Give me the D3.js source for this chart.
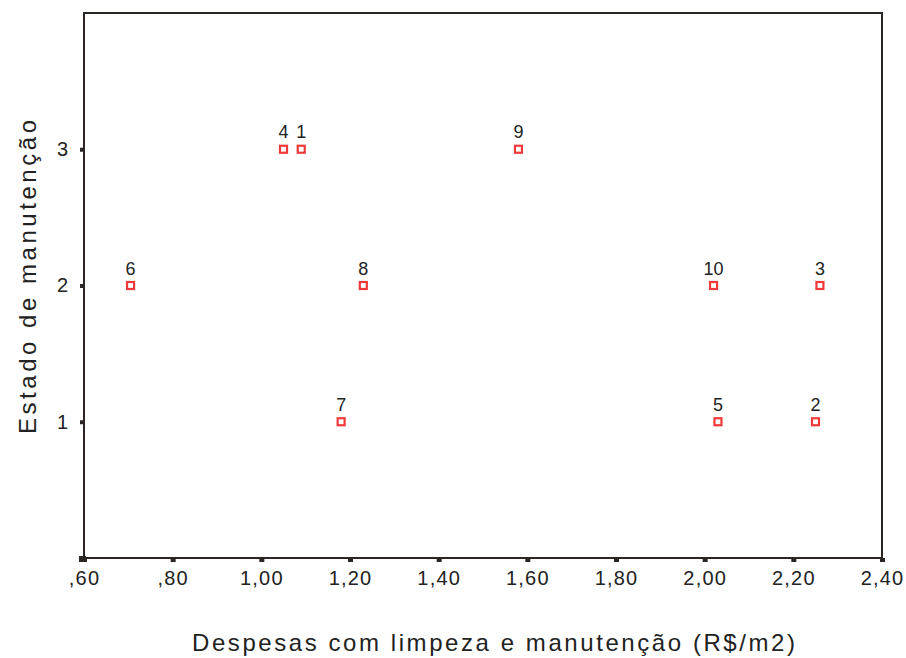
<!DOCTYPE html>
<html>
<head>
<meta charset="utf-8">
<script src="https://cdn.jsdelivr.net/npm/d3@7"></script>
<style>
  html, body { margin: 0; padding: 0; background: #ffffff; }
  svg { display: block; }
  text { font-family: Arial, "Liberation Sans", sans-serif; }
</style>
</head>
<body>
<svg id="chart" width="906" height="658"></svg>
<script>
// Case numbers, cleaning/maintenance spending (R$/m2) and maintenance state
const caseIds   = ["1", "2", "3", "4", "5", "6", "7", "8", "9", "10"];
const despesas  = [1.09, 2.25, 2.26, 1.05, 2.03, 0.705, 1.18, 1.23, 1.58, 2.02];
const estado    = [3, 1, 2, 3, 1, 2, 1, 2, 3, 2];

const xTicks = [0.6, 0.8, 1.0, 1.2, 1.4, 1.6, 1.8, 2.0, 2.2, 2.4];
const yTicks = [1, 2, 3];

const xTitle = "Despesas com limpeza e manutenção (R$/m2)";
const yTitle = "Estado de manutenção";

const svg = d3.select("#chart");
const plotL = 84, plotR = 882, plotT = 13, plotB = 558;

const x = d3.scaleLinear().domain([0.6, 2.4]).range([plotL, plotR]);
const y = d3.scaleLinear().domain([0, 4]).range([plotB, plotT]);

// decimal comma, leading zero dropped (",60")
const fmtX = v => {
  let s = v.toFixed(2).replace(".", ",");
  if (s.startsWith("0")) s = s.slice(1);
  return s;
};

const axisColor = "#2b2624";
const textColor = "#222222";

// frame
svg.append("rect")
  .attr("x", plotL).attr("y", plotT)
  .attr("width", plotR - plotL).attr("height", plotB - plotT)
  .attr("fill", "none").attr("stroke", axisColor).attr("stroke-width", 2);

// bottom axis
const xAxis = svg.append("g")
  .attr("transform", `translate(0,${plotB})`)
  .call(d3.axisBottom(x).tickValues(xTicks).tickFormat(fmtX).tickSize(4).tickPadding(9));
xAxis.select(".domain").remove();
xAxis.selectAll(".tick line").attr("stroke", axisColor).attr("stroke-width", 5);
xAxis.selectAll(".tick text")
  .attr("fill", textColor)
  .style("font-size", "20px")
  .style("letter-spacing", "1.2px");

// left axis
const yAxis = svg.append("g")
  .attr("transform", `translate(${plotL},0)`)
  .call(d3.axisLeft(y).tickValues(yTicks).tickFormat(d3.format("d")).tickSize(4).tickPadding(12));
yAxis.select(".domain").remove();
yAxis.selectAll(".tick line").attr("stroke", axisColor).attr("stroke-width", 4);
yAxis.selectAll(".tick text")
  .attr("fill", textColor)
  .style("font-size", "20px");

// corner tick at origin
svg.append("rect")
  .attr("x", plotL - 5).attr("y", y(0) - 2)
  .attr("width", 7).attr("height", 6)
  .attr("fill", axisColor);

// points
const data = caseIds.map((id, i) => ({ id, xv: despesas[i], yv: estado[i] }));

const pts = svg.append("g");
pts.selectAll("rect")
  .data(data)
  .join("rect")
  .attr("x", d => x(d.xv) - 3.5)
  .attr("y", d => y(d.yv) - 3.5)
  .attr("width", 7).attr("height", 7)
  .attr("fill", "#ffffff")
  .attr("stroke", "#f03a3a")
  .attr("stroke-width", 2.2);

pts.selectAll("text")
  .data(data)
  .join("text")
  .attr("x", d => x(d.xv))
  .attr("y", d => y(d.yv) - 11)
  .attr("text-anchor", "middle")
  .attr("fill", textColor)
  .style("font-size", "18px")
  .text(d => d.id);

// axis titles
svg.append("text")
  .attr("x", 192)
  .attr("y", 651)
  .attr("fill", textColor)
  .attr("textLength", 603)
  .attr("lengthAdjust", "spacing")
  .style("font-size", "24px")
  .text(xTitle);

svg.append("text")
  .attr("transform", "translate(36,434) rotate(-90)")
  .attr("fill", textColor)
  .attr("textLength", 314)
  .attr("lengthAdjust", "spacing")
  .style("font-size", "24px")
  .text(yTitle);
</script>
</body>
</html>
